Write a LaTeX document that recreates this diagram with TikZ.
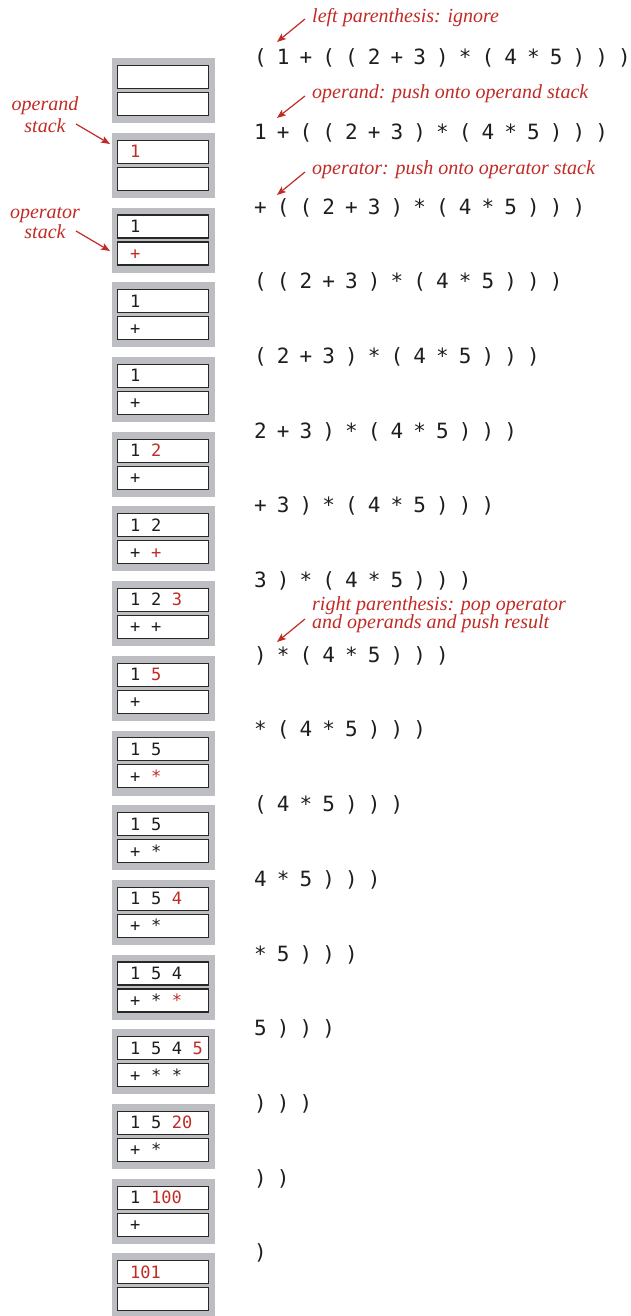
\documentclass[tikz,border=0pt]{standalone}
\usepackage{fontspec}
\usetikzlibrary{arrows.meta}
\newfontfamily\monofam{DejaVu Sans Mono}
\newfontfamily\notefam{Liberation Serif}
\definecolor{exred}{RGB}{192,43,38}
\definecolor{boxgray}{RGB}{189,190,194}
\definecolor{celldark}{RGB}{40,40,40}
\definecolor{inkblack}{RGB}{30,30,30}
\newcommand\exprfont{\monofam\fontsize{21}{25}\selectfont\spaceskip=10.1pt\relax}
\newcommand\stkfont{\monofam\fontsize{17}{20}\selectfont\spaceskip=10.6pt\relax}
\newcommand\notefont{\notefam\itshape\fontsize{20}{22}\selectfont}
\newcommand\rd[1]{\textcolor{exred}{#1}}
\begin{document}
\begin{tikzpicture}[x=1pt,y=-1pt,
  stackbg/.style={fill=boxgray,draw=none,inner sep=0pt,minimum width=103pt,minimum height=65pt,anchor=north west},
  cell/.style={draw=celldark,fill=white,line width=1.1pt,inner sep=0pt,minimum width=91pt,minimum height=23pt,anchor=north west},
  stk/.style={anchor=base west,inner sep=0pt,font=\stkfont,text=inkblack},
  expr/.style={anchor=base west,inner sep=0pt,font=\exprfont,text=inkblack},
  note/.style={anchor=base west,inner sep=0pt,font=\notefont,text=exred},
  lnote/.style={anchor=base,inner sep=0pt,font=\notefont,text=exred},
  arr/.style={draw=exred,line width=1.2pt,-{Stealth[length=9pt,width=7pt,inset=2pt]}}]
\useasboundingbox (0,0) rectangle (631,1316);
\foreach \i/\ee/\opa/\opb in {
 0/{( 1 + ( ( 2 + 3 ) * ( 4 * 5 ) ) )}/{}/{},
 1/{1 + ( ( 2 + 3 ) * ( 4 * 5 ) ) )}/{\rd{1}}/{},
 2/{+ ( ( 2 + 3 ) * ( 4 * 5 ) ) )}/{1}/{\rd{+}},
 3/{( ( 2 + 3 ) * ( 4 * 5 ) ) )}/{1}/{+},
 4/{( 2 + 3 ) * ( 4 * 5 ) ) )}/{1}/{+},
 5/{2 + 3 ) * ( 4 * 5 ) ) )}/{1 \rd{2}}/{+},
 6/{+ 3 ) * ( 4 * 5 ) ) )}/{1 2}/{+ \rd{+}},
 7/{3 ) * ( 4 * 5 ) ) )}/{1 2 \rd{3}}/{+ +},
 8/{) * ( 4 * 5 ) ) )}/{1 \rd{5}}/{+},
 9/{* ( 4 * 5 ) ) )}/{1 5}/{+ \rd{*}},
 10/{( 4 * 5 ) ) )}/{1 5}/{+ *},
 11/{4 * 5 ) ) )}/{1 5 \rd{4}}/{+ *},
 12/{* 5 ) ) )}/{1 5 4}/{+ * \rd{*}},
 13/{5 ) ) )}/{1 5 4 \rd{5}}/{+ * *},
 14/{) ) )}/{1 5 \rd{20}}/{+ *},
 15/{) )}/{1 \rd{100}}/{+},
 16/{)}/{\rd{101}}/{}} {
  \pgfmathsetmacro\yy{58+74.7*\i}
  \node[stackbg] (g\i) at (112,\yy) {};
  \node[cell] (a\i) at (117,\yy+7) {};
  \node[cell] (b\i) at (117,\yy+34) {};
  \node[stk] (sa\i) at (130,\yy+25) {\opa};
  \node[stk] (sb\i) at (130,\yy+52) {\opb};
  \node[expr] (e\i) at (254,\yy+6.6) {\ee};
}
% annotations
\node[note] (n0) at (312,23) {left parenthesis: ignore};
\node[note] (n1) at (312,99) {operand: push onto operand stack};
\node[note] (n2) at (312,175) {operator: push onto operator stack};
\node[note] (n3a) at (312,610) {right parenthesis: pop operator};
\node[note] (n3b) at (312,628) {and operands and push result};
\node[lnote] (l1a) at (45,111) {operand};
\node[lnote] (l1b) at (45,133) {stack};
\node[lnote] (l2a) at (45,218) {operator};
\node[lnote] (l2b) at (45,238) {stack};
\coordinate (t0) at (305,19);  \coordinate (h0) at (277,42);
\coordinate (t1) at (305,96);  \coordinate (h1) at (277,118);
\coordinate (t2) at (305,172); \coordinate (h2) at (277,195);
\coordinate (t3) at (305,619); \coordinate (h3) at (277,642);
\coordinate (t4) at (76,124);  \coordinate (h4) at (110,144);
\coordinate (t5) at (76,231);  \coordinate (h5) at (110,251);
\foreach \k in {0,...,5} { \draw[arr] (t\k) -- (h\k); }
\end{tikzpicture}
\end{document}
